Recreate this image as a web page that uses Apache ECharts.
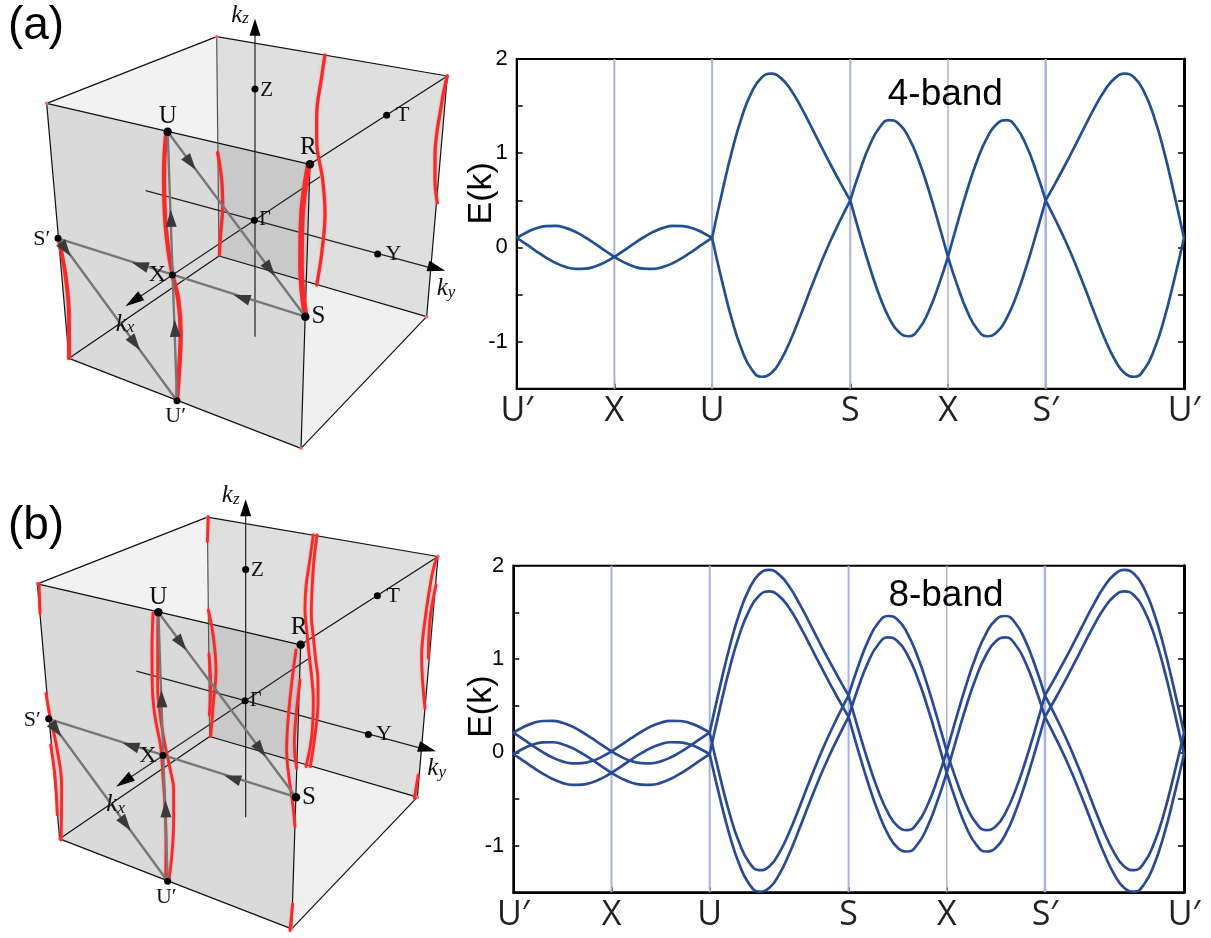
<!DOCTYPE html>
<html>
<head>
<meta charset="utf-8">
<style>html,body{margin:0;padding:0;background:#fff}#main{width:1211px;height:938px}</style>
<script src="https://cdn.jsdelivr.net/npm/echarts@6/dist/echarts.min.js"></script>
</head>
<body>
<div id="main"></div>
<script>
// ---------- band-structure data ----------
const tickPos = [0, 1, 2, 3.414, 4.414, 5.414, 6.83];
const tickLabels = ['U\u2032', 'X', 'U', 'S', 'X', 'S\u2032', 'U\u2032'];
const symPoints = [1, 2, 3.414, 4.414, 5.414];
const yRange = [-1.5, 2];

const xPath = [
  [0,.1,.2,.3,.4,.5,.6,.7,.8,.9,1],
  [1,1.1,1.2,1.3,1.4,1.5,1.6,1.7,1.8,1.9,2],
  [2,2.101,2.202,2.303,2.404,2.505,2.606,2.707,2.808,2.909,3.01,3.111,3.212,3.313,3.414],
  [3.414,3.514,3.614,3.714,3.814,3.914,4.014,4.114,4.214,4.314,4.414],
  [4.414,4.514,4.614,4.714,4.814,4.914,5.014,5.114,5.214,5.314,5.414],
  [5.414,5.515,5.616,5.717,5.818,5.919,6.02,6.121,6.222,6.323,6.424,6.525,6.626,6.727,6.83]];

const band4Upper = [
  [.10,.159,.203,.226,.228,.207,.166,.108,.041,-.031,-.10],
  [-.10,-.031,.041,.108,.166,.207,.228,.226,.203,.159,.10],
  [.10,.578,1.016,1.381,1.645,1.800,1.845,1.794,1.669,1.492,1.291,1.083,.880,.686,.50],
  [.50,.817,1.087,1.273,1.351,1.311,1.163,.925,.619,.269,-.10],
  [-.10,.269,.619,.925,1.163,1.311,1.351,1.273,1.087,.817,.50],
  [.50,.686,.880,1.083,1.291,1.492,1.669,1.794,1.845,1.800,1.645,1.381,1.016,.578,.10]];
const band4Lower = [
  [.10,.031,-.041,-.108,-.166,-.207,-.228,-.226,-.203,-.159,-.10],
  [-.10,-.159,-.203,-.226,-.228,-.207,-.166,-.108,-.041,.031,.10],
  [.10,-.355,-.764,-1.085,-1.293,-1.373,-1.334,-1.19,-.972,-.711,-.437,-.173,.07,.291,.50],
  [.50,.134,-.211,-.515,-.753,-.902,-.943,-.869,-.685,-.416,-.10],
  [-.10,-.416,-.685,-.869,-.943,-.902,-.753,-.515,-.211,.134,.50],
  [.50,.291,.07,-.173,-.437,-.711,-.972,-1.19,-1.334,-1.373,-1.293,-1.085,-.764,-.355,.10]];

const band8A = [
  [.21,.269,.313,.336,.338,.317,.276,.218,.151,.079,.01],
  [.01,.079,.151,.218,.276,.317,.338,.336,.313,.269,.21],
  [.21,.688,1.126,1.491,1.755,1.91,1.955,1.904,1.779,1.602,1.401,1.193,.99,.796,.61],
  [.61,.927,1.197,1.383,1.461,1.421,1.273,1.035,.729,.379,.01],
  [.01,.379,.729,1.035,1.273,1.421,1.461,1.383,1.197,.927,.61],
  [.61,.796,.99,1.193,1.401,1.602,1.779,1.904,1.955,1.91,1.755,1.491,1.126,.688,.21]];
const band8C = [
  [-.02,.039,.083,.106,.108,.087,.046,-.012,-.079,-.151,-.22],
  [-.22,-.151,-.079,-.012,.046,.087,.108,.106,.083,.039,-.02],
  [-.02,.458,.896,1.261,1.525,1.68,1.725,1.674,1.549,1.372,1.171,.963,.76,.566,.38],
  [.38,.697,.967,1.153,1.231,1.191,1.043,.805,.499,.149,-.22],
  [-.22,.149,.499,.805,1.043,1.191,1.231,1.153,.967,.697,.38],
  [.38,.566,.76,.963,1.171,1.372,1.549,1.674,1.725,1.68,1.525,1.261,.896,.458,-.02]];
const band8B = [
  [.21,.141,.069,.002,-.056,-.097,-.118,-.116,-.093,-.049,.01],
  [.01,-.049,-.093,-.116,-.118,-.097,-.056,.002,.069,.141,.21],
  [.21,-.245,-.654,-.975,-1.183,-1.263,-1.224,-1.08,-.862,-.601,-.327,-.063,.18,.401,.61],
  [.61,.244,-.101,-.405,-.643,-.792,-.833,-.759,-.575,-.306,.01],
  [.01,-.306,-.575,-.759,-.833,-.792,-.643,-.405,-.101,.244,.61],
  [.61,.401,.18,-.063,-.327,-.601,-.862,-1.08,-1.224,-1.263,-1.183,-.975,-.654,-.245,.21]];
const band8D = [
  [-.02,-.089,-.161,-.228,-.286,-.327,-.348,-.346,-.323,-.279,-.22],
  [-.22,-.279,-.323,-.346,-.348,-.327,-.286,-.228,-.161,-.089,-.02],
  [-.02,-.475,-.884,-1.205,-1.413,-1.493,-1.454,-1.31,-1.092,-.831,-.557,-.293,-.05,.171,.38],
  [.38,.014,-.331,-.635,-.873,-1.022,-1.063,-.989,-.805,-.536,-.22],
  [-.22,-.536,-.805,-.989,-1.063,-1.022,-.873,-.635,-.331,.014,.38],
  [.38,.171,-.05,-.293,-.557,-.831,-1.092,-1.31,-1.454,-1.493,-1.413,-1.205,-.884,-.475,-.02]];

// ---------- Brillouin-zone diagram, read in units of 1/3 px of the figure ----------
const TB=[650,110],TR=[1342,228],TL=[140,310],TF=[930,493],BB=[657,768],BR=[1280,950],BL=[207,1075],BF=[903,1345];
const faces = [
  {pts:[TL,TB,[654,431]], fill:'#f2f2f2'},
  {pts:[TB,TR,BR,BB], fill:'#dfdfdf'},
  {pts:[[915,845],BR,BF], fill:'#f0f0f0'},
  {pts:[TL,TF,BF,BL], fill:'#dadada'},
  {pts:[[654,431],TF,[915,845],BB], fill:'#c9c9c9'}
];
const edges = [[TL,TB],[TB,TR],[TL,TF],[TF,TR],[TL,BL],[BL,BF],[TF,BF],[TR,BR],[BR,BF],[BB,BR],[BB,BL]];
const backEdge = [TB,BB];
const axisLines = [[[765,1010],[765,70]],[[437,572],[1320,811]],[[960,530],[390,910]]];
const arrowHeads = [[765,82,0,-1,[11,17]],[1310,805,298,81,[11,18]],[400,903,-194,129,[11,19]]];
const pathLoop = [[503,395],[916,950],[174,715],[531,1202],[503,395]];
const pathArrows = [[572,489,413,555],[810,808,413,555],[420,795,-742,-235],[725,893,-742,-235],[197,748,357,487],[405,1030,357,487],[525,985,-28,-807],[513,655,-28,-807]];
const bigDots = [[503,395],[930,493],[916,950]];
const smallDots = [[765,267],[763,661],[1160,346],[1133,762],[174,715],[517,825],[531,1202]];
const pointLabels = [
  ['U',503,350,25],['R',925,442,25],['S',955,950,25],['Z',800,270,21],['\u0393',795,660,20],['T',1208,347,22],
  ['Y',1180,762,22],['S\u2032',125,718,22],['X',472,825,24],['U\u2032',527,1250,22]
];
const axisLabels = [['z',720,45],['y',1338,865],['x',375,972]];
const cornerDotsA = [TB,TR,TL,BL,BF,BR];

const nodalA = [
  [[975,165],[965,230],[950,350],[950,420],[968,540],[975,640],[965,760],[950,855]],
  [[1342,228],[1325,310],[1305,470],[1305,540],[1312,608]],
  [[498,405],[492,520],[495,650],[505,750],[518,825],[535,900],[542,1000],[538,1100],[531,1200]],
  [[653,458],[665,540],[668,620],[662,700],[658,765]],
  [[925,500],[905,660],[903,800],[916,945]],
  [[178,728],[197,830],[207,950],[207,1075]]
];
const nodalWidthA = [3.2,3.2,4.2,3.2,5.6,3.8];
const nodalB = [
  [[940,195],[928,280],[918,350],[915,420],[920,480],[928,560],[935,620],[940,690],[935,800],[918,890]],
  [[951,195],[941,280],[936,360],[934,430],[941,510],[947,570],[954,630],[954,700],[947,780],[931,890]],
  [[1310,262],[1295,320],[1275,450],[1265,560],[1275,715]],
  [[1308,345],[1290,450],[1285,565]],
  [[459,430],[456,540],[457,650],[465,740],[482,830],[489,920],[495,1010],[498,1110],[497,1230]],
  [[474,430],[473,540],[473,650],[481,740],[496,830],[511,900],[521,960],[521,1050],[516,1150],[506,1235]],
  [[625,420],[640,500],[648,600],[640,700],[632,800]],
  [[627,552],[632,650],[628,735]],
  [[888,540],[875,640],[865,740],[860,840],[868,930],[878,1000],[885,1070]],
  [[900,630],[888,740],[883,820],[890,895]],
  [[138,670],[150,740],[170,830],[185,950],[183,1110]],
  [[152,825],[165,920],[172,1035]],
  [[625,140],[622,215]],
  [[117,340],[120,430]],
  [[1255,915],[1243,985]],
  [[878,1302],[870,1382]]
];
const nodalWidthB = nodalB.map(()=>2.8);
const cubeShiftB = [-28, 1441.5];
const nodalShiftB = [0, 1410];

// ---------- build ----------
const chart = echarts.init(document.getElementById('main'), null, {renderer:'canvas'});
const series = [];
const PAGE = {xAxisIndex:2, yAxisIndex:4};
const SOLID = {opacity:1};

function joinBand(xs, ys){
  const out = [];
  xs.forEach((seg,i)=>{
    seg.forEach((x,j)=>out.push([x, ys[i][j]]));
    if(i < xs.length-1) out.push([seg[seg.length-1], null]);
  });
  return out;
}
function bandSeries(name, ys, axes, color){
  series.push({type:'line', name, xAxisIndex:axes[0], yAxisIndex:axes[1], data:joinBand(xPath,ys),
    smooth:0.5, showSymbol:false, connectNulls:false, animation:false, silent:true, z:5,
    lineStyle:{color, width:2.7}});
}
const symWidths = [2,2,2,1.5,2.5];
function symLines(axes){
  symPoints.forEach((x,i)=>series.push({type:'line', xAxisIndex:axes[0], yAxisIndex:axes[1],
    data:[[x,yRange[0]],[x,yRange[1]]], showSymbol:false, animation:false, silent:true, z:3,
    lineStyle:{color:'#a9b1de', width:symWidths[i]}}));
}
symLines([0,0]); symLines([1,2]);
bandSeries('a-upper', band4Upper, [0,0], '#22508f');
bandSeries('a-lower', band4Lower, [0,0], '#22508f');
bandSeries('b-A', band8A, [1,2], '#2a4b93');
bandSeries('b-C', band8C, [1,2], '#2a4b93');
bandSeries('b-B', band8B, [1,2], '#2a4b93');
bandSeries('b-D', band8D, [1,2], '#2a4b93');

function line(pts, color, width, z, extra){
  series.push(Object.assign({type:'line', data:pts, showSymbol:false, animation:false, silent:true, z,
    lineStyle:Object.assign({color, width}, extra&&extra.ls||{})}, PAGE, extra&&extra.s||{}));
}
function shifted(p, d){ return p.map(q=>[q[0]+d[0], q[1]+d[1]]); }
function rot(dx,dy){ return Math.atan2(-dx,-dy)*180/Math.PI; }

function drawCube(d, nodal, nodalD, widths){
  faces.forEach(f=>{
    const pts = shifted(f.pts,d);
    series.push(Object.assign({type:'custom', data:[[0,0]], animation:false, silent:true, z:1, clip:false,
      renderItem:(p,api)=>({type:'polygon', shape:{points:pts.map(q=>api.coord(q))}, style:{fill:f.fill}})}, PAGE));
  });
  edges.forEach(e=>line(shifted(e,d),'#111',1.2,2));
  line(shifted(backEdge,d),'#555',1.2,2);
  axisLines.forEach(a=>line(shifted(a,d),'#222',1.2,2));
  nodal.forEach((n,i)=>line(shifted(n,nodalD),'#f52a2a',widths[i],3,{s:{smooth:0.4},ls:{shadowColor:'rgba(255,90,90,.7)',shadowBlur:2,cap:'round'}}));
  line(shifted(pathLoop,d),'#777',2.4,4);
  series.push(Object.assign({type:'scatter', animation:false, silent:true, z:6,
    data:pathArrows.map(a=>({value:[a[0]+d[0],a[1]+d[1]], symbolRotate:rot(a[2],a[3])})),
    symbol:'triangle', symbolSize:[11,17], itemStyle:{color:'#3a3a3a',opacity:1}}, PAGE));
  arrowHeads.forEach(a=>series.push(Object.assign({type:'scatter', animation:false, silent:true, z:6,
    data:[{value:[a[0]+d[0],a[1]+d[1]], symbolRotate:rot(a[2],a[3])}],
    symbol:'triangle', symbolSize:a[4], itemStyle:{color:'#000',opacity:1}}, PAGE)));
  series.push(Object.assign({type:'scatter', animation:false, silent:true, z:7, data:shifted(bigDots,d), symbolSize:8.5, itemStyle:{color:'#000',opacity:1}}, PAGE));
  series.push(Object.assign({type:'scatter', animation:false, silent:true, z:7, data:shifted(smallDots,d), symbolSize:7, itemStyle:{color:'#000',opacity:1}}, PAGE));
  series.push(Object.assign({type:'scatter', animation:false, silent:true, z:2, data:shifted(cornerDotsA,d), symbolSize:3.5, itemStyle:{color:'#f66',opacity:1}}, PAGE));
  pointLabels.forEach(l=>series.push(Object.assign({type:'scatter', animation:false, silent:true, z:8,
    data:[[l[1]+d[0],l[2]+d[1]]], symbolSize:0, itemStyle:SOLID,
    label:{show:true, position:'inside', formatter:l[0], color:'#111', fontFamily:'Liberation Serif', fontSize:l[3]}}, PAGE)));
  axisLabels.forEach(l=>series.push(Object.assign({type:'scatter', animation:false, silent:true, z:8,
    data:[[l[1]+d[0],l[2]+d[1]]], symbolSize:0, itemStyle:SOLID,
    label:{show:true, position:'inside', formatter:'{k|k}{s|'+l[0]+'}', rich:{
      k:{fontFamily:'Liberation Serif', fontStyle:'italic', fontSize:25, color:'#111'},
      s:{fontFamily:'Liberation Serif', fontStyle:'italic', fontSize:17, color:'#111', padding:[8,0,0,0]}}}}, PAGE)));
}
drawCube([0,0], nodalA, [0,0], nodalWidthA);
drawCube(cubeShiftB, nodalB, nodalShiftB, nodalWidthB);

// page-level text
const texts = [
  ['(a)',108,78,46,0],['(b)',108,1578,46,0],
  ['4-band',2836,285,37,0],['8-band',2838,1788,37,0],
  ['E(k)',1446,580,34,90],['E(k)',1446,2120,34,90]
];
texts.forEach(t=>series.push(Object.assign({type:'scatter', animation:false, silent:true, z:9,
  data:[[t[1],t[2]]], symbolSize:0, itemStyle:SOLID,
  label:{show:true, position:'inside', formatter:t[0], rotate:t[4], color:'#000', fontFamily:'Liberation Sans', fontSize:t[3]}}, PAGE)));

function xAxisFor(gridIndex){
  return {type:'value', gridIndex, min:0, max:6.83, position:'bottom',
    axisLine:{show:true, onZero:false, lineStyle:{color:'#000', width:2}}, splitLine:{show:false},
    axisTick:{show:true, inside:true, length:5, customValues:tickPos, lineStyle:{color:'#000',width:1.5}},
    axisLabel:{show:true, customValues:tickPos, margin:6, color:'#222', fontFamily:'Open Sans', fontSize:34,
      formatter:v=>tickLabels[tickPos.indexOf(v)] , showMinLabel:true, showMaxLabel:true}};
}
function yAxisFor(gridIndex, right){
  return {type:'value', gridIndex, min:yRange[0], max:yRange[1], interval:0.5, position:right?'right':'left',
    axisLine:{show:true, onZero:false, lineStyle:{color:'#000', width:right?3:2}}, splitLine:{show:false},
    axisTick:{show:true, inside:true, length:6, lineStyle:{color:'#000',width:1.5}},
    axisLabel:{show:!right, margin:9, color:'#000', fontFamily:'Liberation Sans', fontSize:22,
      formatter:v=>Number.isInteger(v)?String(v):''}};
}

chart.setOption({
  animation:false,
  backgroundColor:'#fff',
  grid:[
    {left:516.7, top:59, width:667.3, height:329.7, show:true, borderColor:'#000', borderWidth:2, backgroundColor:'transparent'},
    {left:513.3, top:565.7, width:670.7, height:326.6, show:true, borderColor:'#000', borderWidth:2, backgroundColor:'transparent'},
    {left:0, top:0, width:1211, height:938}
  ],
  xAxis:[xAxisFor(0), xAxisFor(1),
    {type:'value', gridIndex:2, min:0, max:3633, show:false}],
  yAxis:[yAxisFor(0,false), yAxisFor(0,true), yAxisFor(1,false), yAxisFor(1,true),
    {type:'value', gridIndex:2, min:0, max:2814, inverse:true, show:false}],
  series
});
</script>
</body>
</html>
